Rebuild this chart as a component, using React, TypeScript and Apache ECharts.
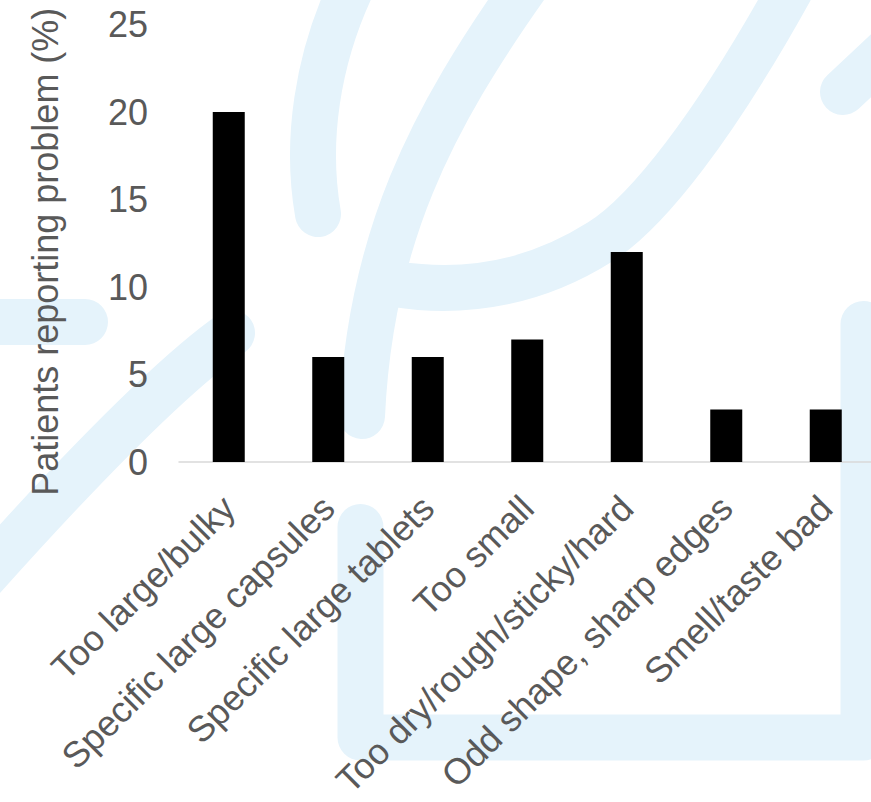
import React, { useEffect, useRef } from "react";
import * as echarts from "echarts";

// Reported swallowing problems with oral solid dosage forms
const categories = [
  "Too large/bulky",
  "Specific large capsules",
  "Specific large tablets",
  "Too small",
  "Too dry/rough/sticky/hard",
  "Odd shape, sharp edges",
  "Smell/taste bad",
];
const patientPct = [20, 6, 6, 7, 12, 3, 3];

const yMin = 0;
const yMax = 25;
const yStep = 5;
const yTitle = "Patients reporting problem (%)";

// Decorative light-blue brush strokes behind the plot
const WATERMARK_D = [
  "M 350 -10 C 318 60 305 140 318 214",
  "M 530 -20 C 430 120 370 240 362 416",
  "M 395 284 C 470 296 540 280 600 242 C 648 212 715 125 790 -10",
  "M 843 92 L 920 20",
  "M -30 322 L 85 322",
  "M -30 592 Q 150 390 232 333",
  "M 360.5 527 L 360.5 737.5 L 863.5 737.5 L 863.5 324",
].join(" ");

echarts.graphic.registerShape(
  "watermark",
  echarts.graphic.extendPath(WATERMARK_D, {})
);

const FONT = "'Liberation Sans', Arial, sans-serif";
const TEXT_COLOR = "#595959";

export default function App() {
  const ref = useRef<HTMLDivElement>(null);

  useEffect(() => {
    if (!ref.current) return;
    const chart = echarts.init(ref.current, undefined, { renderer: "svg" });
    chart.setOption({
      animation: false,
      backgroundColor: "#ffffff",
      graphic: {
        elements: [
          {
            type: "watermark",
            x: 0,
            y: 0,
            z: -10,
            silent: true,
            style: {
              fill: "none",
              stroke: "#e5f3fb",
              lineWidth: 46,
              lineCap: "round",
              lineJoin: "round",
            },
          },
        ],
      },
      grid: {
        left: 179,
        top: 24.5,
        width: 696.5,
        height: 437.5,
        containLabel: false,
        outerBoundsMode: "none",
      },
      xAxis: {
        type: "category",
        data: categories,
        axisLine: { show: true, lineStyle: { color: "#d9d9d9", width: 1.5 } },
        axisTick: { show: false },
        splitLine: { show: false },
        axisLabel: {
          interval: 0,
          rotate: 45,
          margin: 40,
          color: TEXT_COLOR,
          fontSize: 36,
          fontFamily: FONT,
          hideOverlap: false,
        },
      },
      yAxis: {
        type: "value",
        min: yMin,
        max: yMax,
        interval: yStep,
        axisLine: { show: false },
        axisTick: { show: false },
        splitLine: { show: false },
        axisLabel: {
          margin: 31,
          color: TEXT_COLOR,
          fontSize: 36,
          fontFamily: FONT,
        },
        name: yTitle,
        nameLocation: "middle",
        nameGap: 116,
        nameTextStyle: {
          color: TEXT_COLOR,
          fontSize: 36,
          fontFamily: FONT,
          padding: [0, 17, 0, 0],
        },
      },
      series: [
        {
          type: "bar",
          data: patientPct,
          barWidth: 32,
          itemStyle: { color: "#000000" },
        },
      ],
    });
    return () => chart.dispose();
  }, []);

  return (
    <div
      ref={ref}
      style={{ position: "fixed", left: 0, top: 0, width: 871, height: 802 }}
    />
  );
}
